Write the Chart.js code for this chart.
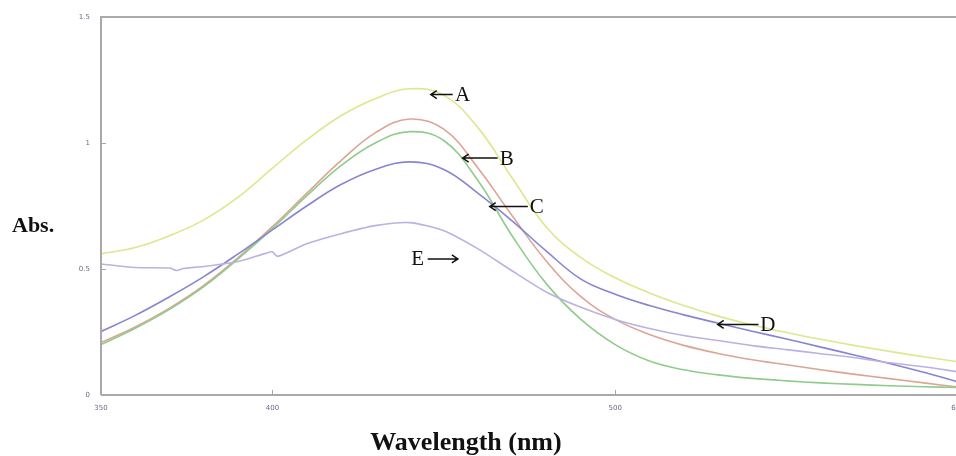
<!DOCTYPE html>
<html>
<head>
<meta charset="utf-8">
<script src="https://cdn.jsdelivr.net/npm/chart.js@4/dist/chart.umd.min.js"></script>
<style>
  html, body { margin: 0; padding: 0; background: #fff; overflow: hidden; }
  #wrap { width: 956px; height: 456px; overflow: hidden; }
</style>
</head>
<body>
<div id="wrap"><canvas id="chart" width="975" height="456"></canvas></div>
<script>
// wavelength grid (nm)
const wavelengths = [350, 360, 370, 380, 390, 400, 410, 420, 430, 440, 450, 460, 470,
  480, 490, 500, 510, 520, 530, 540, 550, 560, 570, 580, 590, 600];

const seriesA = [0.56, 0.585, 0.632, 0.695, 0.785, 0.9, 1.012, 1.108, 1.176, 1.215, 1.19, 1.06, 0.86,
  0.665, 0.545, 0.465, 0.405, 0.355, 0.313, 0.278, 0.248, 0.221, 0.196, 0.173, 0.152, 0.132];
const seriesB = [0.208, 0.27, 0.345, 0.435, 0.545, 0.668, 0.80, 0.93, 1.04, 1.095, 1.055, 0.90, 0.71,
  0.53, 0.39, 0.30, 0.24, 0.197, 0.165, 0.14, 0.12, 0.10, 0.082, 0.065, 0.048, 0.032];
const seriesC = [0.20, 0.265, 0.34, 0.43, 0.54, 0.66, 0.79, 0.91, 1.00, 1.045, 1.01, 0.85, 0.63,
  0.44, 0.30, 0.20, 0.135, 0.10, 0.08, 0.066, 0.056, 0.048, 0.042, 0.037, 0.033, 0.03];
const seriesD = [0.252, 0.316, 0.39, 0.47, 0.56, 0.655, 0.75, 0.835, 0.895, 0.925, 0.895, 0.80, 0.69,
  0.57, 0.46, 0.40, 0.355, 0.318, 0.285, 0.253, 0.222, 0.19, 0.158, 0.125, 0.09, 0.052];

// E has two small glitches (near 372 and 401 nm), so it keeps its own grid
const wavelengthsE = [350, 360, 370, 372, 374, 380, 390, 398, 400, 401.5, 410, 420, 430, 440, 450, 460,
  470, 480, 490, 500, 510, 520, 530, 540, 550, 560, 570, 580, 590, 600];
const seriesE = [0.52, 0.506, 0.504, 0.494, 0.502, 0.51, 0.53, 0.562, 0.568, 0.55, 0.60, 0.64, 0.672,
  0.684, 0.652, 0.58, 0.492, 0.408, 0.348, 0.30, 0.264, 0.236, 0.216, 0.196, 0.18, 0.164, 0.148,
  0.128, 0.112, 0.092];

const xTicks = [350, 400, 500, 600];
const yTicks = [0, 0.5, 1, 1.5];

// curve labels: letter position, arrow tip and arrow tail (nm, Abs)
const labels = [
  { text: "A", x: 455.5, y: 1.192, tip: 446.2, tail: 452.6 },
  { text: "B", x: 468.4, y: 0.94, tip: 455.5, tail: 465.7 },
  { text: "C", x: 477.1, y: 0.748, tip: 463.4, tail: 474.5 },
  { text: "D", x: 544.5, y: 0.28, tip: 529.9, tail: 541.8 },
  { text: "E", x: 442.4, y: 0.54, tip: 454.1, tail: 445.3 }
];

function pts(xs, ys) {
  return xs.map(function (x, i) { return { x: x, y: ys[i] }; });
}

function line(label, xs, ys, color, tension) {
  return {
    label: label,
    data: pts(xs, ys),
    borderColor: color,
    borderWidth: 1.6,
    pointRadius: 0,
    fill: false,
    tension: tension
  };
}

const frameColor = "#a9a9a9";

const decorations = {
  id: "decorations",
  afterDraw: function (chart) {
    const ctx = chart.ctx;
    const area = chart.chartArea;
    const xs = chart.scales.x;
    const ys = chart.scales.y;

    ctx.save();
    // frame
    ctx.strokeStyle = frameColor;
    ctx.lineWidth = 2;
    ctx.beginPath();
    ctx.moveTo(area.left, area.bottom);
    ctx.lineTo(area.left, area.top);
    ctx.lineTo(area.right, area.top);
    ctx.moveTo(area.left, area.bottom);
    ctx.lineTo(area.right, area.bottom);
    ctx.stroke();

    // inner tick marks
    ctx.lineWidth = 1;
    ctx.beginPath();
    xTicks.forEach(function (v) {
      const px = Math.round(xs.getPixelForValue(v)) + 0.5;
      ctx.moveTo(px, area.bottom);
      ctx.lineTo(px, area.bottom - 5);
    });
    yTicks.forEach(function (v) {
      const py = Math.round(ys.getPixelForValue(v)) + 0.5;
      ctx.moveTo(area.left, py);
      ctx.lineTo(area.left + 5, py);
    });
    ctx.stroke();

    // curve labels with arrows
    ctx.fillStyle = "#111";
    ctx.strokeStyle = "#111";
    ctx.lineWidth = 1.5;
    ctx.font = "21px 'Liberation Serif', serif";
    ctx.textAlign = "center";
    ctx.textBaseline = "middle";
    labels.forEach(function (l) {
      const py = ys.getPixelForValue(l.y);
      ctx.fillText(l.text, xs.getPixelForValue(l.x), py + 1);
      const tip = xs.getPixelForValue(l.tip);
      const tail = xs.getPixelForValue(l.tail);
      const dir = tail > tip ? 1 : -1;
      ctx.beginPath();
      ctx.moveTo(tail, py);
      ctx.lineTo(tip, py);
      ctx.moveTo(tip + dir * 6, py - 4);
      ctx.lineTo(tip, py);
      ctx.lineTo(tip + dir * 6, py + 4);
      ctx.stroke();
    });

    // axis titles
    ctx.font = "bold 22px 'Liberation Serif', serif";
    ctx.textAlign = "left";
    ctx.textBaseline = "alphabetic";
    ctx.fillText("Abs.", 12, 232);
    ctx.font = "bold 26px 'Liberation Serif', serif";
    ctx.textAlign = "center";
    ctx.fillText("Wavelength (nm)", 466, 450);
    ctx.restore();
  }
};

new Chart(document.getElementById("chart"), {
  type: "line",
  data: {
    datasets: [
      line("E", wavelengthsE, seriesE, "#b9b2e2", 0.25),
      line("D", wavelengths, seriesD, "#8585d2", 0.4),
      line("C", wavelengths, seriesC, "#8fcc8c", 0.4),
      line("B", wavelengths, seriesB, "#dca593", 0.4),
      line("A", wavelengths, seriesA, "#dce88e", 0.4)
    ]
  },
  options: {
    responsive: false,
    animation: false,
    devicePixelRatio: 1,
    layout: { padding: { top: 17, right: 17, left: 0, bottom: 0 } },
    plugins: { legend: { display: false }, tooltip: { enabled: false } },
    scales: {
      x: {
        type: "linear",
        min: 350,
        max: 600,
        afterBuildTicks: function (scale) {
          scale.ticks = xTicks.map(function (v) { return { value: v }; });
        },
        afterFit: function (scale) { scale.height = 61; },
        grid: { display: false },
        border: { display: false },
        ticks: {
          padding: 1,
          maxRotation: 0,
          autoSkip: false,
          color: "#6a6a88",
          font: { size: 7, family: "'DejaVu Sans', sans-serif" }
        }
      },
      y: {
        min: 0,
        max: 1.5,
        afterBuildTicks: function (scale) {
          scale.ticks = yTicks.map(function (v) { return { value: v }; });
        },
        afterFit: function (scale) { scale.width = 101; },
        grid: { display: false },
        border: { display: false },
        ticks: {
          padding: 3,
          color: "#6a6a88",
          font: { size: 7, family: "'DejaVu Sans', sans-serif" },
          callback: function (v) { return String(v); }
        }
      }
    }
  },
  plugins: [decorations]
});
</script>
</body>
</html>
